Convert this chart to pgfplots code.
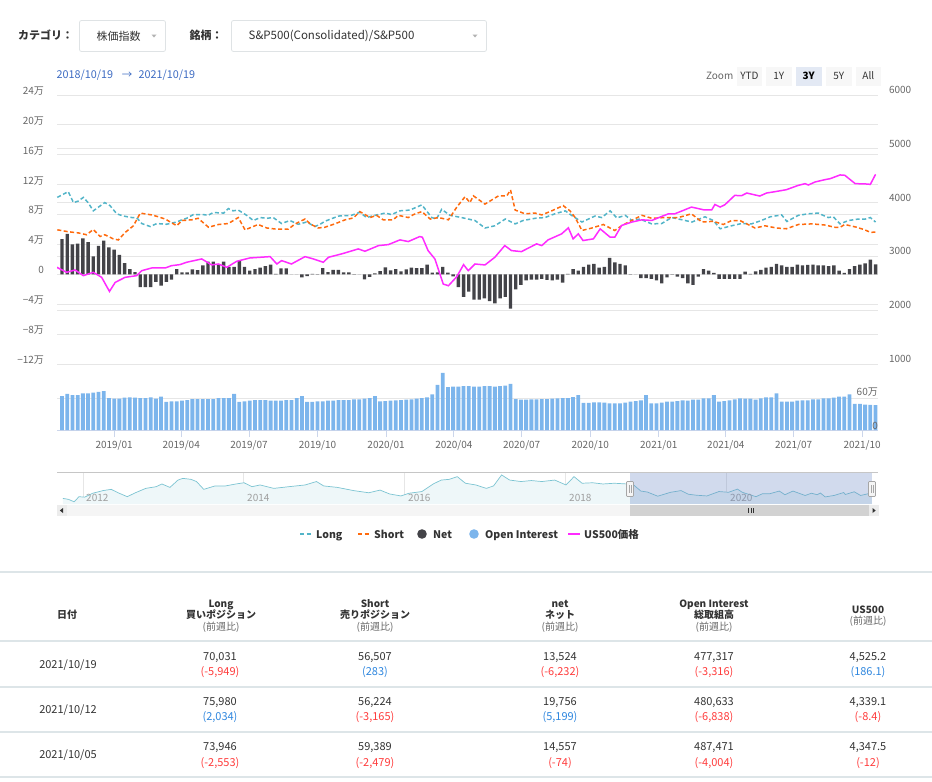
\documentclass[border=0pt]{standalone}
\usepackage{fontspec}
\setmainfont{Noto Sans CJK JP}
\usepackage{pgfplots}
\usepackage{pgfplotstable}
\pgfplotsset{compat=1.18}

\definecolor{cLong}{HTML}{52B4C8}
\definecolor{cShort}{HTML}{FF6A0D}
\definecolor{cNet}{HTML}{434348}
\definecolor{cOI}{HTML}{7CB5EC}
\definecolor{cPrice}{HTML}{FF2BFF}
\definecolor{cGrid}{HTML}{E6E6E6}
\definecolor{cAxis}{HTML}{CCD6EB}
\definecolor{cLab}{HTML}{666666}
\definecolor{cTxt}{HTML}{333333}
\definecolor{cBlue}{HTML}{3D6BC2}
\definecolor{cRed}{HTML}{FF3B3B}
\definecolor{cPos}{HTML}{2E86DE}
\definecolor{cRule}{HTML}{DDE5E8}
\definecolor{cNavLine}{HTML}{7CC4D2}
\definecolor{cNavFill}{HTML}{EEF7F9}
\definecolor{cMask}{HTML}{6685C2}

\newcommand\fs[1]{\fontsize{#1}{#1}\selectfont}

% week index w: 2018/10/23 + 7w ; values in thousands
\pgfplotstableread{
w net oi
0 47 649
1 54 688
2 40 668
3 41 668
4 48 700
5 43 700
6 24 713
7 38 726
8 45 745
9 36 611
10 33 598
11 26 598
12 15 617
13 7 624
14 3 617
15 -17 611
16 -17 611
17 -17 624
18 -10 598
19 -15 636
20 -10 535
21 -7 548
22 7 548
23 2.5 560
24 2.5 573
25 6.5 592
26 5.5 592
27 12 592
28 17 592
29 17 592
30 13.5 611
31 17 611
32 10 611
33 10 688
34 18 535
35 10 548
36 5 560
37 7 573
38 9 573
39 11 573
40 13 560
41 0.5 560
42 8 560
43 8 573
44 0 573
45 0 611
46 -4 649
47 -2.5 535
48 0.6 535
49 0.3 548
50 8.4 548
51 3 560
52 6 560
53 6 573
54 2.7 573
55 2.7 573
56 0.3 586
57 0 586
58 -6.7 598
59 -3.5 611
60 1.3 649
61 4.4 548
62 9.3 554
63 5.3 560
64 7 567
65 4 573
66 6.7 580
67 9 586
68 8.4 598
69 8.4 611
70 13 624
71 2.2 680
72 2.7 860
73 10 1090
74 2.2 820
75 -2.7 830
76 -17 830
77 -30 840
78 -23 840
79 -34 830
80 -34 830
81 -32 840
82 -36 840
83 -39 830
84 -32 840
85 -30 850
86 -46 880
87 -20 590
88 -14 580
89 -8 580
90 -7 586
91 -7 586
92 -6 592
93 -7.5 592
94 -8 598
95 -7 605
96 -11 611
97 0.5 611
98 7 630
99 5 668
100 10 520
101 13 520
102 14 528
103 9 528
104 10 522
105 22 509
106 16 509
107 14 509
108 12 522
109 0.3 541
110 0 554
111 -5 567
112 -5 668
113 -6 509
114 -8 509
115 -12 522
116 -4 541
117 0.3 541
118 -3 554
119 -5 567
120 -12 560
121 -14 580
122 -3 580
123 7 605
124 5 605
125 2 668
126 -6 541
127 -6 554
128 -6 567
129 -6 586
130 -6 605
131 3.5 598
132 0.5 598
133 4 580
134 6 605
135 9 624
136 10 624
137 14 700
138 12 541
139 10 541
140 10 541
141 13 560
142 12 567
143 12.5 567
144 13 586
145 12 586
146 12 605
147 11 605
148 12 617
149 5 636
150 2 636
151 7 681
152 11 497
153 13 497
154 14.6 487
155 19.8 481
156 13.5 477
}\weekly

\pgfplotstableread{
w v
-0.9 103
1.2 110.7
2.2 96
3.1 98
4.1 103
5.0 96
6.0 85
7.0 90
8.2 96
9.2 92
10.5 81
11.8 78
13.4 76
14.3 76
15.3 68
16.9 64
18.2 68
20.0 67
22.0 70
23.0 73
23.9 75
25.2 80
27.1 80
28.0 79
29.0 82.7
31.0 82
31.9 88
32.8 85
33.8 86
35.4 79
36.7 72
38.0 76
39.3 75
40.5 76
42.1 68
43.7 72
45.3 67
46.9 70
48.5 64
49.5 67
50.4 71
53.0 78
55.5 79
57.1 83
58.4 76
60.0 79
62.0 82
63.2 80
64.8 85
66.7 86
69.0 93
70.9 76
71.8 74
72.8 87
74.4 79
76.6 76
79.2 72
81.1 62
83.0 65
85.0 74
86.9 67.5
88.4 72
90.7 75
92.6 76
94.5 81
96.5 85
97.7 79
99.7 70
102.2 78
103.5 76
105.1 85
106.4 75.5
108.0 79
109.3 72
110.8 74
113.1 67.5
115.0 68
116.9 76
118.9 73
120.8 70
123.3 77
124.9 72
126.2 61
128.4 65
130.3 68
132.2 67.5
134.1 72
135.8 77
138.0 79.5
139.0 70.7
141.2 79
143.1 81
145.0 82
146.9 76
147.9 77
149.2 67.5
150.8 72
152.7 74
154 73.9
155 76.0
156 70.0
}\longdata

\pgfplotstableread{
w v
-0.9 59.6
1.2 57
3.1 55.5
4.7 53
6.0 60
7.3 50.7
8.2 53
9.8 47.6
10.8 46
12.1 56
13.7 65
15.0 82
17.2 79.5
18.5 77
19.8 74
22.0 65
23.0 72
24.9 73
26.1 75
28.1 63
30.0 66.7
31.9 68
33.8 76
35.1 59.5
37.6 66.7
39.3 62
41.2 60.4
43.4 60.4
44.7 67.5
46.6 74
47.6 67.5
49.1 62
50.4 63
52.3 67.5
54.3 73
55.9 75.5
57.1 84
59.1 76
60.3 79
61.6 73
63.5 73
64.5 79
66.4 76
67.4 80
69.0 84
70.6 74
72.2 76
74.1 73
75.7 90
77.3 104
78.2 96
78.9 105
81.1 94
83.7 105
85.3 105
86.0 113
86.9 86
88.8 81
90.7 82
92.0 79.5
93.9 85
96.1 92
97.4 85
98.4 76
99.7 58.7
101.6 62
103.8 66.7
106.0 58.7
107.3 65
109.2 72
111.2 79
113.1 75
115.6 76
118.2 76
120.7 81
122.7 70
124.9 71
126.8 66.7
128.4 72
130.0 72
132.9 62
134.8 65
137.0 62
138.9 61
141.2 66.7
143.8 67.5
146.3 66
148.2 63
149.2 63
150.1 66.7
152.4 63
154 59.4
155 56.2
156 56.5
}\shortdata

\pgfplotstableread{
w v
-1.0 2797
0.9 2704
2.5 2748
4.1 2642
6.0 2704
7.6 2611
9.1 2349
10.2 2517
12.1 2611
14.3 2642
15.3 2735
17.2 2785
19.8 2785
21.0 2828
22.6 2847
23.9 2891
26.8 2953
28.7 2841
30.0 2859
31.6 2797
33.5 2909
36.0 2971
39.9 2996
41.2 2859
42.1 2922
44.0 2859
46.6 2996
48.2 2953
50.1 2891
51.1 2984
53.6 3046
56.8 3139
58.1 3096
60.7 3201
62.6 3220
64.8 3307
66.4 3276
68.6 3369
69.1 3357
70.2 3108
71.5 2953
73.1 2486
74.1 2455
75.7 2623
77.0 2847
77.9 2735
79.2 2859
81.1 2841
83.0 2984
84.9 3201
86.2 3108
88.1 3089
91.0 3233
92.0 3201
93.2 3307
95.8 3419
97.1 3531
98.0 3326
99.0 3419
99.9 3295
101.9 3326
103.2 3512
105.1 3357
106.0 3357
107.3 3575
109.2 3637
111.2 3680
113.1 3668
115.0 3743
116.3 3792
117.5 3792
118.8 3842
120.7 3917
123.0 3867
124.6 3867
125.2 3966
126.2 3917
127.1 3960
129.0 4134
130.3 4128
131.3 4178
133.8 4122
135.1 4178
136.7 4203
138.9 4240
141.2 4321
142.5 4352
143.1 4327
144.4 4383
146.3 4427
147.3 4445
149.2 4514
150.1 4508
152.1 4352
154 4347.5
155 4339.1
156 4525.2
}\pricedata

\pgfplotstableread{
y v
2011.75 55
2011.82 51
2011.89 41
2011.95 62
2012.02 60
2012.12 76
2012.25 87
2012.35 92
2012.45 76
2012.55 62
2012.65 78
2012.78 96
2012.91 103
2012.98 114
2013.08 100
2013.18 130
2013.24 137
2013.34 133
2013.41 124
2013.50 92
2013.64 106
2013.77 106
2013.90 114
2014.00 119
2014.10 103
2014.20 110
2014.37 96
2014.56 103
2014.76 110
2014.90 124
2014.99 106
2015.16 100
2015.36 87
2015.55 78
2015.69 89
2015.81 73
2015.95 65
2016.05 76
2016.21 83
2016.35 114
2016.45 130
2016.55 133
2016.65 144
2016.75 117
2016.88 110
2017.01 96
2017.10 106
2017.20 151
2017.30 130
2017.44 124
2017.57 128
2017.70 124
2017.86 130
2018.00 110
2018.10 144
2018.20 117
2018.33 119
2018.46 114
2018.60 117
2018.76 114
2018.82 106
2018.84 110
2018.93 85
2019.01 81
2019.14 64
2019.30 80
2019.43 87
2019.52 72
2019.62 68
2019.75 65
2019.90 83
2020.02 80
2020.13 93
2020.19 80
2020.36 62
2020.44 74
2020.53 74
2020.65 85
2020.72 70
2020.82 85
2020.97 67
2021.05 76
2021.12 70
2021.16 77
2021.22 61
2021.33 67
2021.45 79
2021.47 71
2021.58 82
2021.66 67
2021.78 76
2021.80 70
}\navdata

\begin{document}
\begin{tikzpicture}
\path[use as bounding box] (0pt,0pt) rectangle (932pt,-782pt);

% ---------- main pane: Long, Short, Net ----------
\begin{axis}[
  at={(57pt,-364pt)}, anchor=south west, scale only axis,
  width=821pt, height=269pt,
  xmin=-0.96, xmax=156.47, ymin=-120, ymax=240,
  axis line style={draw=none}, tick style={draw=none},
  xtick=\empty,
  ytick={-120,-80,...,240},
  yticklabels={−12万,−8万,−4万,0,4万,8万,12万,16万,20万,24万},
  extra y ticks={-48,24,96,168},
  extra y tick labels={},
  ymajorgrids, major grid style={draw=cGrid, line width=1pt},
  yticklabel style={font=\fs{10}, text=cLab, anchor=east, xshift=-9.5pt, yshift=4pt},
]
\addplot[cLong, line width=1.5pt, dash pattern=on 4pt off 2.5pt] table[x=w,y=v]{\longdata};
\addplot[cShort, line width=1.5pt, dash pattern=on 4pt off 2.5pt] table[x=w,y=v]{\shortdata};
\addplot[ybar, bar width=3.4pt, fill=cNet, draw=none] table[x=w,y=net]{\weekly};
\end{axis}

% ---------- main pane: price ----------
\begin{axis}[
  at={(57pt,-364pt)}, anchor=south west, scale only axis,
  width=821pt, height=269pt,
  xmin=-0.96, xmax=156.47, ymin=1000, ymax=6000,
  axis line style={draw=none}, tick style={draw=none},
  xtick=\empty, yticklabel pos=right,
  ytick={1000,2000,...,6000},
  yticklabels={1000,2000,3000,4000,5000,6000},
  yticklabel style={font=\fs{10}, text=cLab, anchor=west, xshift=7.5pt, yshift=5pt},
]
\addplot[cPrice, line width=1.5pt] table[x=w,y=v]{\pricedata};
\end{axis}

% ---------- open interest pane ----------
\begin{axis}[
  at={(57pt,-430pt)}, anchor=south west, scale only axis,
  width=821pt, height=58pt,
  xmin=-0.96, xmax=156.47, ymin=0, ymax=1107.8,
  axis x line*=bottom, axis y line*=left,
  x axis line style={draw=cAxis, line width=1pt, -},
  y axis line style={draw=none},
  ytick={600}, yticklabels={}, ytick style={draw=none},
  ymajorgrids, major grid style={draw=cGrid, line width=1pt},
  xtick={10,22.857,35.857,49,62.14,75.14,88.14,101.29,114.43,127.29,140.29,153.43},
  xticklabels={2019/01,2019/04,2019/07,2019/10,2020/01,2020/04,2020/07,2020/10,2021/01,2021/04,2021/07,2021/10},
  tick align=outside, major tick length=7pt,
  xtick style={draw=cAxis, line width=1pt},
  xticklabel style={font=\fs{10}, text=cLab},
  clip=false,
]
\addplot[ybar, bar width=3.8pt, fill=cOI, draw=none] table[x=w,y=oi]{\weekly};
\end{axis}

% ---------- navigator ----------
\begin{axis}[
  at={(57pt,-504pt)}, anchor=south west, scale only axis,
  width=821pt, height=32pt,
  xmin=2011.677, xmax=2021.876, ymin=32, ymax=163,
  axis line style={draw=none}, tick style={draw=none},
  ytick=\empty,
  xtick={2012,2014,2016,2018,2020},
  xticklabels={},
  xmajorgrids, major grid style={draw=cGrid, line width=1pt},
]
\addplot[draw=none, fill=cNavFill] table[x=y,y=v]{\navdata} \closedcycle;
\addplot[cNavLine, line width=0.7pt] table[x=y,y=v]{\navdata};
\end{axis}

\begin{scope}[x=1pt, y=-1pt]
% top controls
\node[anchor=west, font=\bfseries\fs{11}, text=cTxt, inner sep=0] at (18,35.5) {カテゴリ：};
\draw[cRule!80!gray!60, line width=0.8pt, rounded corners=2pt, fill=white] (79.5,20.5) rectangle (165.5,51.5);
\node[anchor=west, font=\fs{11}, text=cTxt, inner sep=0] at (96.5,36) {株価指数};
\fill[gray!60] (151.5,34.5) -- (156.5,34.5) -- (154,37.5) -- cycle;
\node[anchor=west, font=\bfseries\fs{11}, text=cTxt, inner sep=0] at (189.5,35.5) {銘柄：};
\draw[cRule!80!gray!60, line width=0.8pt, rounded corners=2pt, fill=white] (231.5,20.5) rectangle (486.5,51.5);
\node[anchor=west, font=\fs{11.5}, text=cTxt, inner sep=0] at (248.5,36) {S\&P500(Consolidated)/S\&P500};
\fill[gray!60] (472.5,34.5) -- (477.5,34.5) -- (475,37.5) -- cycle;

% date range
\node[anchor=west, font=\fs{10.8}, text=cBlue, inner sep=0] at (56.5,75) {2018/10/19};
\node[anchor=center, font=\fs{10.5}, text=cBlue, inner sep=0] at (127,75) {→};
\node[anchor=west, font=\fs{10.8}, text=cBlue, inner sep=0] at (138.5,75) {2021/10/19};

% zoom buttons
\node[font=\fs{10}, text=cLab, inner sep=0] at (719.7,75.5) {Zoom};
\fill[gray!6] (736.7,66.7) rectangle (762.3,85.7);
\fill[gray!6] (765.7,66.7) rectangle (791.7,85.7);
\fill[cMask!18] (795.7,66.7) rectangle (821.7,85.7);
\fill[gray!6] (825.7,66.7) rectangle (851.7,85.7);
\fill[gray!6] (855.7,66.7) rectangle (881,85.7);
\node[font=\fs{10}, text=cTxt, inner sep=0] at (749.5,75.5) {YTD};
\node[font=\fs{10}, text=cTxt, inner sep=0] at (778.7,75.5) {1Y};
\node[font=\bfseries\fs{10}, text=black, inner sep=0] at (808.7,75.5) {3Y};
\node[font=\fs{10}, text=cTxt, inner sep=0] at (838.7,75.5) {5Y};
\node[font=\fs{10}, text=cTxt, inner sep=0] at (868.3,75.5) {All};

% OI pane labels
\node[anchor=east, font=\fs{10}, text=cLab, inner sep=0] at (878,392) {60万};
\node[anchor=east, font=\fs{10}, text=cLab, inner sep=0] at (878,426) {0};

% navigator labels, mask, outline, handles
\foreach \lx/\yr in {86/2012,247/2014,408/2016,569/2018,730/2020}{
  \node[anchor=base west, font=\fs{10}, text=gray!75, inner sep=0] at (\lx,501) {\yr};
}
\draw[gray!45, line width=1pt] (57,472.5) -- (878,472.5);
\fill[cMask, opacity=0.3] (630,473) rectangle (872,504);
\foreach \hx in {630,872}{
  \draw[gray!70, fill=gray!8, line width=0.7pt, rounded corners=0.8pt] (\hx-3.5,481.5) rectangle (\hx+3.5,496.5);
  \draw[gray!70, line width=0.6pt] (\hx-1.2,485) -- (\hx-1.2,493) (\hx+1.2,485) -- (\hx+1.2,493);
}
% scrollbar
\fill[gray!8] (57,505) rectangle (878,516);
\fill[gray!35] (630,505) rectangle (872,516);
\draw[cTxt, line width=0.6pt] (748.5,508) -- (748.5,513) (751,508) -- (751,513) (753.5,508) -- (753.5,513);
\fill[gray!15] (57,505) rectangle (67,516);
\fill[cTxt] (63,508) -- (63,513) -- (59.8,510.5) -- cycle;
\fill[gray!15] (869,505) rectangle (879,516);
\fill[cTxt] (872.5,508) -- (872.5,513) -- (875.7,510.5) -- cycle;

% legend
\draw[cLong, line width=1.5pt, dash pattern=on 4pt off 2.5pt] (300,534) -- (312,534);
\node[anchor=base west, font=\bfseries\fs{10.5}, text=cTxt, inner sep=0] at (316,538) {Long};
\draw[cShort, line width=1.5pt, dash pattern=on 4pt off 2.5pt] (358,534) -- (370,534);
\node[anchor=base west, font=\bfseries\fs{10.5}, text=cTxt, inner sep=0] at (374,538) {Short};
\fill[cNet] (422,534) circle (4.8);
\node[anchor=base west, font=\bfseries\fs{10.5}, text=cTxt, inner sep=0] at (433,538) {Net};
\fill[cOI] (474,534) circle (4.8);
\node[anchor=base west, font=\bfseries\fs{10.5}, text=cTxt, inner sep=0] at (485,538) {Open Interest};
\draw[cPrice, line width=1.8pt] (568,534) -- (580,534);
\node[anchor=base west, font=\bfseries\fs{10.5}, text=cTxt, inner sep=0] at (584,538) {US500価格};

% table rules
\draw[cRule, line width=1.5pt] (0,572) -- (932,572);
\draw[cRule, line width=2pt] (0,641) -- (932,641);
\draw[cRule, line width=1.5pt] (0,687) -- (932,687);
\draw[cRule, line width=1.5pt] (0,732) -- (932,732);
\draw[cRule, line width=1.5pt] (0,777) -- (932,777);

% table header
\tikzset{hd/.style={font=\bfseries\fs{10}, text=cTxt, inner sep=0, anchor=base},
         sub/.style={font=\fs{10}, text=cLab, inner sep=0, anchor=base},
         num/.style={font=\fs{11}, text=cTxt, inner sep=0, anchor=base}}
\node[hd] at (67,618) {日付};
\node[hd] at (221,607) {Long};
\node[hd] at (221,618) {買いポジション};
\node[sub] at (221,630) {(前週比)};
\node[hd] at (375,607) {Short};
\node[hd] at (375,618) {売りポジション};
\node[sub] at (375,630) {(前週比)};
\node[hd] at (560,607) {net};
\node[hd] at (560,618) {ネット};
\node[sub] at (560,630) {(前週比)};
\node[hd] at (714,607) {Open Interest};
\node[hd] at (714,618) {総取組高};
\node[sub] at (714,630) {(前週比)};
\node[hd] at (868,613) {US500};
\node[sub] at (868,624) {(前週比)};

% rows
\node[num] at (68,668) {2021/10/19};
\node[num] at (220,660) {70,031};   \node[num, text=cRed] at (220,675) {(-5,949)};
\node[num] at (375,660) {56,507};   \node[num, text=cPos] at (375,675) {(283)};
\node[num] at (560,660) {13,524};   \node[num, text=cRed] at (560,675) {(-6,232)};
\node[num] at (714,660) {477,317};  \node[num, text=cRed] at (714,675) {(-3,316)};
\node[num] at (868,660) {4,525.2};  \node[num, text=cPos] at (868,675) {(186.1)};

\node[num] at (68,713) {2021/10/12};
\node[num] at (220,705) {75,980};   \node[num, text=cPos] at (220,720) {(2,034)};
\node[num] at (375,705) {56,224};   \node[num, text=cRed] at (375,720) {(-3,165)};
\node[num] at (560,705) {19,756};   \node[num, text=cPos] at (560,720) {(5,199)};
\node[num] at (714,705) {480,633};  \node[num, text=cRed] at (714,720) {(-6,838)};
\node[num] at (868,705) {4,339.1};  \node[num, text=cRed] at (868,720) {(-8.4)};

\node[num] at (68,758) {2021/10/05};
\node[num] at (220,750) {73,946};   \node[num, text=cRed] at (220,766) {(-2,553)};
\node[num] at (375,750) {59,389};   \node[num, text=cRed] at (375,766) {(-2,479)};
\node[num] at (560,750) {14,557};   \node[num, text=cRed] at (560,766) {(-74)};
\node[num] at (714,750) {487,471};  \node[num, text=cRed] at (714,766) {(-4,004)};
\node[num] at (868,750) {4,347.5};  \node[num, text=cRed] at (868,766) {(-12)};
\end{scope}
\end{tikzpicture}
\end{document}
